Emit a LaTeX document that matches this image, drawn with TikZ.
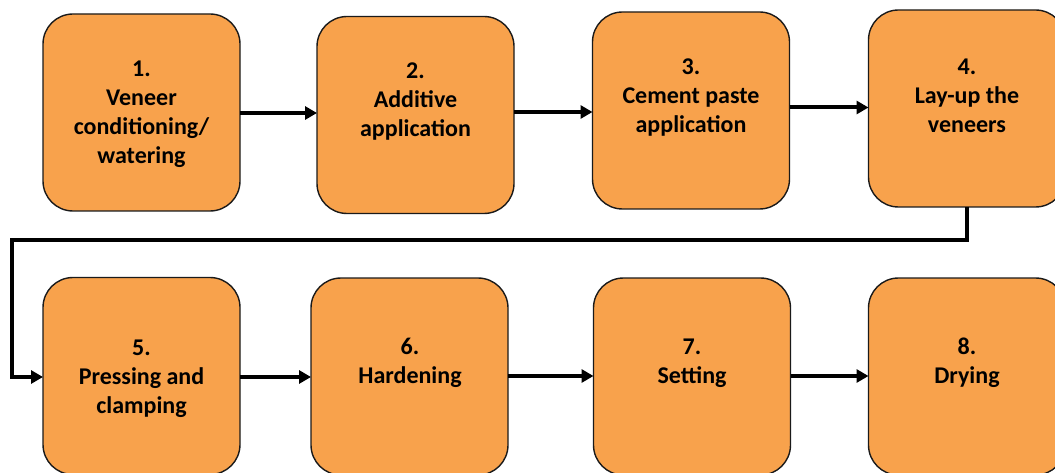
\documentclass[tikz,border=0pt]{standalone}
\usepackage{fontspec}
\setmainfont{Carlito}
\usetikzlibrary{arrows.meta}
\definecolor{boxfill}{HTML}{F8A24C}
\definecolor{boxline}{HTML}{1A1A1A}
\tikzset{
  stepbox/.style={draw=boxline, line width=1.4pt, fill=boxfill, rounded corners=30pt,
    minimum width=197pt, minimum height=197pt, inner sep=0pt, outer sep=0pt},
  steptext/.style={font=\fontsize{24}{29}\selectfont\bfseries, align=center, inner sep=0pt},
  arr/.style={line width=4pt, line join=miter, -{Triangle[length=12pt,width=13pt]}}
}
\begin{document}
\begin{tikzpicture}[x=1pt,y=-1pt]
\useasboundingbox (0,0) rectangle (1055,473);
% boxes
\node[stepbox] (b1) at (141.5,112.5) {};
\node[stepbox] (b2) at (415.5,115) {};
\node[stepbox] (b3) at (691,110.5) {};
\node[stepbox] (b4) at (967,108.5) {};
\node[stepbox] (b5) at (141.5,376) {};
\node[stepbox] (b6) at (409.5,376.5) {};
\node[stepbox] (b7) at (692,376.5) {};
\node[stepbox] (b8) at (967,376.5) {};
% texts
\node[steptext] (t1) at (141.5,114) {1.\\Veneer\\conditioning/\\watering};
\node[steptext] (t2) at (415.5,102) {2.\\Additive\\application};
\node[steptext] (t3) at (691,97.5) {3.\\Cement paste\\application};
\node[steptext] (t4) at (967,96) {4.\\Lay-up the\\veneers};
\node[steptext] (t5) at (141.5,379) {5.\\Pressing and\\clamping};
\node[steptext] (t6) at (410,363) {6.\\Hardening};
\node[steptext] (t7) at (692,363) {7.\\Setting};
\node[steptext] (t8) at (967,363) {8.\\Drying};
% connectors
\draw[arr] (b1.east |- 0,113) -- (b2.west |- 0,113);
\draw[arr] (b2.east |- 0,112) -- (b3.west |- 0,112);
\draw[arr] (b3.east |- 0,107.5) -- (b4.west |- 0,107.5);
\coordinate (c1) at (12,240);
\draw[arr] (b4.south) |- (c1) |- (b5.west |- 0,377);
\draw[arr] (b5.east |- 0,377) -- (b6.west |- 0,377);
\draw[arr] (b6.east |- 0,376) -- (b7.west |- 0,376);
\draw[arr] (b7.east |- 0,376) -- (b8.west |- 0,376);
\end{tikzpicture}
\end{document}
